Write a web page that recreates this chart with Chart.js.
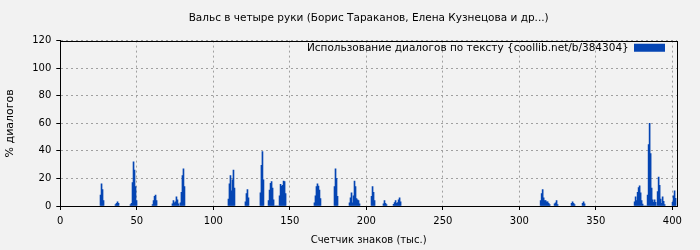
<!DOCTYPE html>
<html>
<head>
<meta charset="utf-8">
<script src="https://cdn.jsdelivr.net/npm/chart.js@4.4.0/dist/chart.umd.min.js"></script>
<style>
  html, body { margin: 0; padding: 0; background: #f2f2f2; }
  #grafico { display: block; }
</style>
</head>
<body>
<canvas id="grafico" width="700" height="250"></canvas>
<script>
const titulo = 'Вальс в четыре руки (Борис Тараканов, Елена Кузнецова и др...)';
const legenda = 'Использование диалогов по тексту {coollib.net/b/384304}';
const tituloX = 'Счетчик знаков (тыс.)';
const tituloY = '% диалогов';

// largura de cada barra em milhares de caracteres
const passo = 0.654;
// inicio (mil caracteres) de cada trecho com dialogos
const inicios = [26.3, 36.1, 45.9, 60.3, 73.3, 109.9, 121.0, 130.8, 136.1, 166.1, 179.2,
  189.0, 203.4, 211.2, 217.8, 313.9, 323.0, 334.1, 341.3, 375.3, 400.1];
// % de dialogos, barra a barra, em cada trecho
const trechos = [
  [8, 16, 12, 4],
  [1, 2, 3, 2],
  [1, 2, 17, 32, 26, 14, 4],
  [1, 4, 7, 8, 4],
  [1.6, 4, 2.3, 3, 6.7, 4.5, 1.6, 0, 2.3, 10, 22, 27, 14],
  [5, 16, 22, 11, 19, 26, 13],
  [3, 9, 12, 6],
  [9.5, 29.5, 39.5, 19],
  [4, 11.6, 16.4, 17.7, 13, 4.5, 0, 0, 0, 0, 0, 7.4, 15.7, 14.3, 15, 18, 17.7, 9],
  [2.3, 7.4, 14, 16, 14.5, 11.6, 5.3],
  [14, 27, 20, 7],
  [2.3, 6, 9.5, 2.3, 7.4, 18, 14, 5.3, 4.5, 4, 1.6],
  [7, 14, 10, 4],
  [1.6, 4, 2, 1],
  [1.3, 2.5, 4, 2, 2.5, 4.5, 6, 3],
  [4, 9, 12, 6, 4, 4, 3, 3, 2, 1],
  [1.6, 2.3, 4, 1],
  [2, 3, 2, 1],
  [2, 3, 1.5],
  [3, 6.7, 4, 10, 13.3, 14.7, 9.5, 4, 1.4, 0, 0, 0, 0, 8, 44.5, 60, 38, 13, 4.5, 2.6, 4.5, 2.6, 0,
    10.5, 21, 15, 5, 2, 6.7, 3.3, 1],
  [2.6, 7.4, 11, 5.5]
];

const pontos = [];
trechos.forEach((valores, t) => {
  valores.forEach((v, i) => {
    pontos.push({ x: inicios[t] + i * passo, y: v });
  });
});

Chart.defaults.font.family = "'DejaVu Sans', sans-serif";
Chart.defaults.font.size = 10;
Chart.defaults.color = '#000';

// legenda desenhada por cima da area do grafico
const legendaDentro = {
  id: 'legendaDentro',
  beforeInit(chart) {
    const fitOriginal = chart.legend.fit;
    chart.legend.fit = function () {
      fitOriginal.bind(chart.legend)();
      this.alturaReal = this.height;
      this.height = 0;
    };
  },
  afterLayout(chart) {
    const leg = chart.legend;
    leg.top -= 10;
    leg.height = leg.alturaReal;
    leg.bottom = leg.top + leg.height;
  }
};

// moldura preta em volta da area do grafico
const moldura = {
  id: 'moldura',
  afterDatasetsDraw(chart) {
    const { ctx, chartArea: a } = chart;
    ctx.save();
    ctx.strokeStyle = '#000';
    ctx.lineWidth = 1;
    const l = Math.round(a.left) + 0.5, t = Math.round(a.top) + 0.5;
    const r = Math.round(a.right) + 0.5, b = Math.round(a.bottom) + 0.5;
    ctx.strokeRect(l, t, r - l, b - t);
    ctx.restore();
  }
};

const ctx = document.getElementById('grafico').getContext('2d');
const grafico = new Chart(ctx, {
  type: 'bar',
  data: {
    datasets: [{
      label: legenda,
      data: pontos,
      backgroundColor: '#0545b3',
      borderWidth: 0,
      barPercentage: 1,
      categoryPercentage: 1
    }]
  },
  options: {
    responsive: false,
    animation: false,
    layout: { padding: { left: 0, right: 23, top: 0, bottom: 0 } },
    scales: {
      x: {
        type: 'linear',
        min: 0,
        max: 403,
        offset: false,
        afterBuildTicks: (eixo) => {
          eixo.ticks = eixo.ticks.filter(t => t.value % 50 === 0);
        },
        ticks: { stepSize: 50, padding: 5, maxRotation: 0, includeBounds: false },
        grid: { color: '#a0a0a0', offset: false, tickLength: 4, tickColor: '#000', tickBorderDash: [] },
        border: { display: true, color: '#000', dash: [2, 3] },
        title: { display: true, text: tituloX, padding: { top: 2, bottom: 4 } }
      },
      y: {
        min: 0,
        max: 120,
        ticks: { stepSize: 20, padding: 5 },
        grid: { color: '#a0a0a0', tickLength: 4, tickColor: '#000', tickBorderDash: [] },
        border: { display: true, color: '#000', dash: [2, 3] },
        title: { display: true, text: tituloY, font: { size: 11 }, padding: { top: 4, bottom: 10 } }
      }
    },
    plugins: {
      title: {
        display: true,
        text: titulo,
        fullSize: false,
        font: { size: 10.5, weight: 'normal' },
        padding: { top: 12, bottom: 16 }
      },
      legend: {
        display: true,
        fullSize: false,
        align: 'start',
        rtl: true,
        textDirection: 'ltr',
        labels: { boxWidth: 31, boxHeight: 8, padding: 12, font: { size: 10.5 } }
      },
      tooltip: { enabled: false }
    }
  },
  plugins: [legendaDentro, moldura]
});
</script>
</body>
</html>
